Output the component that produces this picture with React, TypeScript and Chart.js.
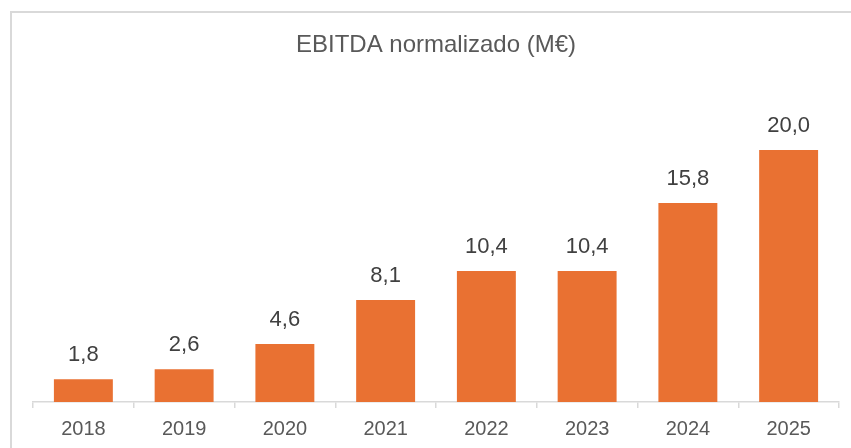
import React, { useEffect, useRef } from "react";
import { Chart, registerables } from "chart.js";

Chart.register(...registerables);

const categories = ["2018", "2019", "2020", "2021", "2022", "2023", "2024", "2025"];
const ebitda = [1.8, 2.6, 4.6, 8.1, 10.4, 10.4, 15.8, 20.0];
const titleText = "EBITDA normalizado (M€)";

const fmt = (v: number) => v.toFixed(1).replace(".", ",");

const valueLabels = {
  id: "valueLabels",
  afterDatasetsDraw(chart: any) {
    const { ctx } = chart;
    const meta = chart.getDatasetMeta(0);
    ctx.save();
    ctx.font = "22px 'Liberation Sans', Arial, sans-serif";
    ctx.fillStyle = "#404040";
    ctx.textAlign = "center";
    ctx.textBaseline = "middle";
    meta.data.forEach((bar: any, i: number) => {
      ctx.fillText(fmt(ebitda[i]), bar.x, bar.y - 24);
    });
    ctx.restore();
  },
};

export default function App() {
  const ref = useRef<HTMLCanvasElement>(null);
  useEffect(() => {
    if (!ref.current) return;
    const chart = new Chart(ref.current, {
      type: "bar",
      data: {
        labels: categories,
        datasets: [
          {
            data: ebitda,
            backgroundColor: "#E97132",
            borderWidth: 0,
            barPercentage: 0.585,
            categoryPercentage: 1,
          },
        ],
      },
      options: {
        animation: false,
        responsive: false,
        maintainAspectRatio: false,
        layout: { padding: { left: 33, right: 12, top: 0, bottom: -2 } },
        plugins: {
          legend: { display: false },
          tooltip: { enabled: false },
          title: {
            display: true,
            text: titleText,
            color: "#595959",
            font: { family: "'Liberation Sans', Arial, sans-serif", size: 24, weight: "normal" },
            padding: { top: 30.6, bottom: 27.6 },
          },
        },
        scales: {
          x: {
            offset: true,
            grid: {
              display: true,
              offset: true,
              drawOnChartArea: false,
              drawTicks: true,
              tickLength: 6,
              color: "#D9D9D9",
              lineWidth: 1.5,
            },
            border: { display: true, color: "#D9D9D9", width: 1.5 },
            ticks: {
              color: "#595959",
              padding: 9,
              font: { family: "'Liberation Sans', Arial, sans-serif", size: 20 },
            },
          },
          y: {
            display: false,
            min: 0,
            max: 25,
          },
        },
      },
      plugins: [valueLabels],
    });
    return () => chart.destroy();
  }, []);

  return (
    <div style={{ position: "fixed", left: 0, top: 0, width: 851, height: 448, background: "#fff", overflow: "hidden" }}>
      <div
        style={{
          position: "absolute",
          left: 10,
          top: 11,
          width: 900,
          height: 500,
          borderTop: "2px solid #D9D9D9",
          borderLeft: "2px solid #D9D9D9",
        }}
      />
      <canvas ref={ref} width={851} height={448} style={{ position: "absolute", left: 0, top: 0, width: 851, height: 448 }} />
    </div>
  );
}
